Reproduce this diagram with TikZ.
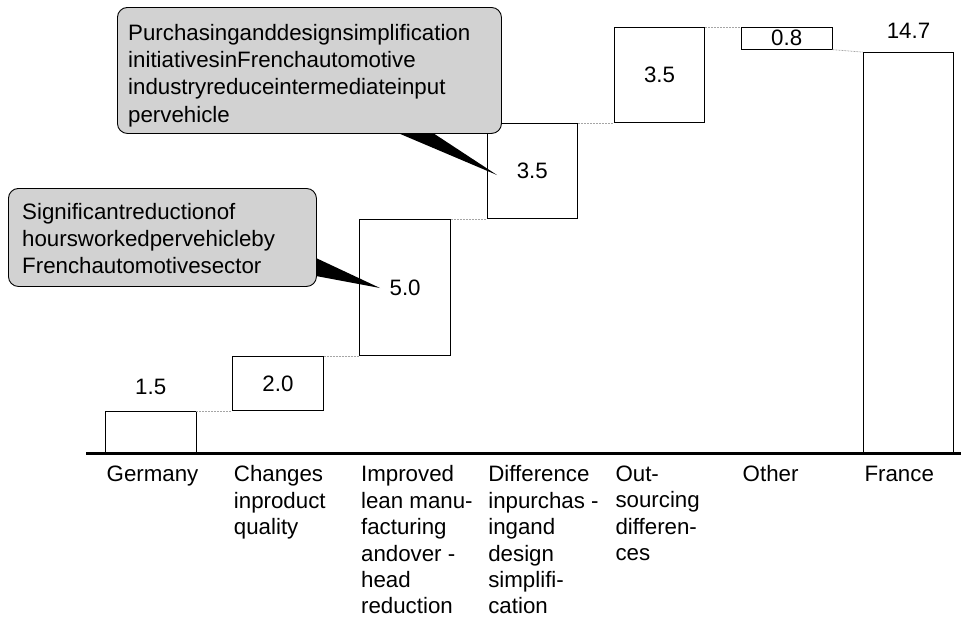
\documentclass[tikz,border=0pt]{standalone}
\usepackage{fontspec}
\setmainfont{Liberation Sans}
\newcommand\chartfont{\fontsize{22.3}{27.3}\selectfont}
\newcommand\catfont{\fontsize{22.3}{26.4}\selectfont}
\definecolor{calloutgray}{RGB}{210,210,210}
\definecolor{linkgray}{RGB}{165,165,165}
\tikzset{
  bar/.style={draw=black, line width=0.9pt, fill=white, minimum width=90.5pt,
    inner sep=0pt, font=\chartfont},
  link/.style={draw=linkgray, line width=0.7pt, dash pattern=on 2pt off 1pt},
  value/.style={inner sep=0pt, font=\chartfont},
  catlabel/.style={anchor=north west, align=left, inner sep=0pt, font=\catfont},
  callout/.style={draw=black, line width=0.9pt, fill=calloutgray,
    rounded corners=10pt, anchor=north west, inner sep=0pt},
  callouttext/.style={anchor=north west, align=left, inner sep=0pt, font=\chartfont},
  pointer/.style={fill=black},
  axisline/.style={draw=black, line width=3pt}
}
\begin{document}
\begin{tikzpicture}[x=1pt, y=-1pt]
\useasboundingbox (0,0) rectangle (961,619);

% waterfall bars (27.2 units of height per point of value)
\node[bar, anchor=south west, minimum height=40.8pt] (germany) at (105,453) {};
\node[bar, anchor=south west, minimum height=54.4pt] (quality)
  at ([xshift=35.8pt]germany.north east) {2.0};
\node[bar, anchor=south west, minimum height=136pt] (lean)
  at ([xshift=35.8pt]quality.north east) {5.0};
\node[bar, anchor=south west, minimum height=95.2pt] (purch)
  at ([xshift=35.8pt]lean.north east) {3.5};
\node[bar, anchor=south west, minimum height=95.2pt] (outsrc)
  at ([xshift=35.8pt]purch.north east) {3.5};
\node[bar, anchor=north west, minimum height=21.8pt] (other)
  at ([xshift=35.8pt]outsrc.north east) {0.8};
\node[bar, anchor=south west, minimum height=400pt] (france) at (862.8,453) {};

% totals above the end bars
\node[value] (germanyval) at ([yshift=24pt]germany.north) {1.5};
\node[value] (franceval) at ([yshift=21.5pt]france.north) {14.7};

% step connectors
\draw[link] (germany.north east) -- (quality.south west);
\draw[link] (quality.north east) -- (lean.south west);
\draw[link] (lean.north east) -- (purch.south west);
\draw[link] (purch.north east) -- (outsrc.south west);
\draw[link] (outsrc.north east) -- (other.north west);
\draw[link] (other.south east) -- (france.north west);

% category labels
\node[catlabel] (germanylbl) at ([shift={(1.5pt,-12.5pt)}]germany.south west) {Germany};
\node[catlabel] (qualitylbl) at ([shift={(1.5pt,-12.5pt)}]quality.south west |- germany.south) {Changes\\inproduct\\quality};
\node[catlabel] (leanlbl) at ([shift={(1.5pt,-12.5pt)}]lean.south west |- germany.south) {Improved\\lean manu-\\facturing\\andover -\\head\\reduction};
\node[catlabel] (purchlbl) at ([shift={(1.5pt,-12.5pt)}]purch.south west |- germany.south) {Difference\\inpurchas -\\ingand\\design\\simplifi-\\cation};
\node[catlabel] (outsrclbl) at ([shift={(1.5pt,-12.5pt)}]outsrc.south west |- germany.south) {Out-\\sourcing\\differen-\\ces};
\node[catlabel] (otherlbl) at ([shift={(1.5pt,-12.5pt)}]other.south west |- germany.south) {Other};
\node[catlabel] (francelbl) at ([shift={(1.5pt,-12.5pt)}]france.south west) {France};

% axis
\coordinate (axisL) at (86,453);
\coordinate (axisR) at (961,453);
\draw[axisline] (axisL) -- (axisR);

% callout pointers (drawn under the callout boxes)
\coordinate (tip1) at (380,288);
\coordinate (tip2) at (497,175);
\fill[pointer] (300,250.5) -- (tip1) -- (300,273) -- cycle;
\fill[pointer] (367.3,120) -- (tip2) -- (413.2,120) -- cycle;

% callouts
\node[callout, minimum width=308pt, minimum height=98pt] (note1) at (8,188) {};
\node[callouttext] (note1txt) at (22,203) {Significantreductionof\\hoursworkedpervehicleby\\Frenchautomotivesector};
\node[callout, minimum width=384pt, minimum height=126pt] (note2) at (117,7) {};
\node[callouttext] (note2txt) at (128,24) {Purchasinganddesignsimplification\\initiativesinFrenchautomotive\\industryreduceintermediateinput\\pervehicle};
\end{tikzpicture}
\end{document}
